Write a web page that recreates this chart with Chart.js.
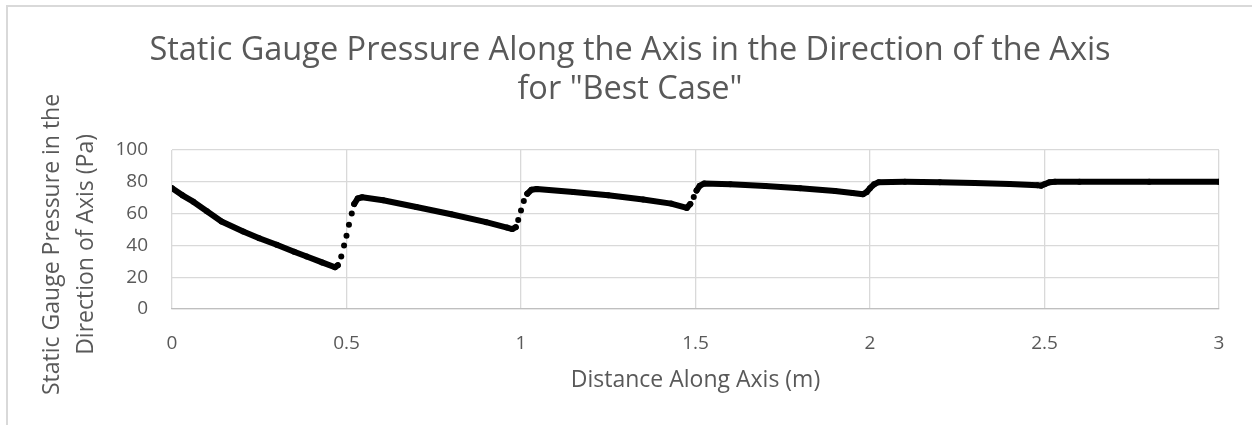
<!DOCTYPE html>
<html>
<head>
<meta charset="utf-8">
<script src="https://cdn.jsdelivr.net/npm/chart.js@4.4.1/dist/chart.umd.min.js"></script>
<style>
    html, body { margin: 0; padding: 0; background: #fff; }
    #wrap { position: relative; width: 1252px; height: 425px; overflow: hidden; }
    #frame { position: absolute; left: 6px; top: 5px; width: 1300px; height: 500px; border: 2px solid #d9d9d9; }
    #chart { position: absolute; left: 0; top: 0; }
</style>
</head>
<body>
<div id="wrap">
    <div id="frame"></div>
    <canvas id="chart" width="1252" height="425"></canvas>
</div>
<script>
// distance along the axis (m) and static gauge pressure (Pa)
const distance = [
    0, 0.03, 0.061, 0.1, 0.142, 0.204, 0.25, 0.3, 0.35, 0.386, 0.43, 0.467,
    0.475, 0.485, 0.493, 0.5, 0.507, 0.515, 0.522, 0.532, 0.545,
    0.605, 0.7, 0.8, 0.9, 0.96, 0.975,
    0.985, 0.992, 1.0, 1.008, 1.018, 1.03, 1.045,
    1.15, 1.25, 1.35, 1.43, 1.475,
    1.485, 1.495, 1.503, 1.512, 1.525,
    1.6, 1.7, 1.8, 1.9, 1.95, 1.98,
    1.99, 2.0, 2.012, 2.025,
    2.1, 2.2, 2.3, 2.4, 2.48, 2.49,
    2.5, 2.515, 2.53,
    2.6, 2.8, 3.0
];
const pressure = [
    76, 71.5, 67.5, 61.5, 55, 48.7, 44.5, 40.4, 36, 33, 29.3, 26.3,
    27.5, 33, 40, 46, 53, 60, 66, 69.5, 70.3,
    68.4, 64.2, 59.6, 54.6, 51.2, 50.3,
    51.5, 56, 62, 68, 72.5, 75, 75.5,
    73.6, 71.5, 68.9, 66.3, 63.6,
    66, 70.5, 74.5, 77.5, 79,
    78.5, 77.4, 76, 74.2, 73, 72.2,
    73.5, 76, 78.5, 79.8,
    80, 79.8, 79.3, 78.6, 77.8, 77.6,
    78.5, 79.8, 80,
    80, 80, 80
];

const xTicks = [0, 0.5, 1, 1.5, 2, 2.5, 3];
const yTicks = [0, 20, 40, 60, 80, 100];

const chartTitle = ['Static Gauge Pressure Along the Axis in the Direction of the Axis', 'for "Best Case"'];
const xTitle = 'Distance Along Axis (m)';
// trailing spaces nudge the rotated title down a little, like the original
const yTitle = ['Static Gauge Pressure in the     ', 'Direction of Axis (Pa)     '];

const textColor = '#595959';
const gridColor = '#d9d9d9';
const fontFamily = "'Open Sans', 'Noto Sans', sans-serif";

const points = distance.map((d, i) => ({ x: d, y: pressure[i] }));

// steep jumps are only dots in the original scatter, no joining line
const steep = (ctx) => Math.abs(ctx.p1.y - ctx.p0.y) > 2 * Math.abs(ctx.p1.x - ctx.p0.x);

new Chart(document.getElementById('chart'), {
    type: 'scatter',
    data: {
        datasets: [{
            data: points,
            showLine: true,
            borderColor: '#000',
            backgroundColor: '#000',
            borderWidth: 6,
            borderCapStyle: 'round',
            borderJoinStyle: 'round',
            pointRadius: 3,
            pointBorderWidth: 0,
            tension: 0,
            segment: {
                borderColor: ctx => steep(ctx) ? 'rgba(0,0,0,0)' : '#000'
            }
        }]
    },
    options: {
        responsive: false,
        animation: false,
        layout: { padding: { left: 41, right: 33, top: 0, bottom: 0 } },
        plugins: {
            legend: { display: false },
            tooltip: { enabled: false },
            title: {
                display: true,
                text: chartTitle,
                color: textColor,
                font: { family: fontFamily, size: 32.5, weight: 'normal', lineHeight: 1.185 },
                padding: { top: 31.5, bottom: 41.5 }
            }
        },
        scales: {
            x: {
                type: 'linear',
                min: 0,
                max: 3,
                afterBuildTicks: axis => { axis.ticks = xTicks.map(v => ({ value: v })); },
                afterFit: axis => { axis.height = 116; },
                grid: { color: gridColor, lineWidth: 1.3, drawTicks: false },
                border: { color: '#bfbfbf', width: 1.3 },
                ticks: {
                    color: textColor,
                    font: { family: fontFamily, size: 19 },
                    padding: 23,
                    maxRotation: 0,
                    callback: value => String(value)
                },
                title: {
                    display: true,
                    text: xTitle,
                    color: textColor,
                    font: { family: fontFamily, size: 23, lineHeight: 1.2 },
                    padding: { top: 0, bottom: 30.7 }
                }
            },
            y: {
                type: 'linear',
                min: 0,
                max: 100,
                afterBuildTicks: axis => { axis.ticks = yTicks.map(v => ({ value: v })); },
                afterFit: axis => { axis.width = 131; },
                grid: { color: gridColor, lineWidth: 1.3, drawTicks: false },
                border: { display: false },
                ticks: {
                    color: textColor,
                    font: { family: fontFamily, size: 19 },
                    padding: 24
                },
                title: {
                    display: true,
                    text: yTitle,
                    color: textColor,
                    font: { family: fontFamily, size: 23, lineHeight: 1.48 },
                    padding: { top: -6, bottom: 0 }
                }
            }
        }
    }
});
</script>
</body>
</html>
